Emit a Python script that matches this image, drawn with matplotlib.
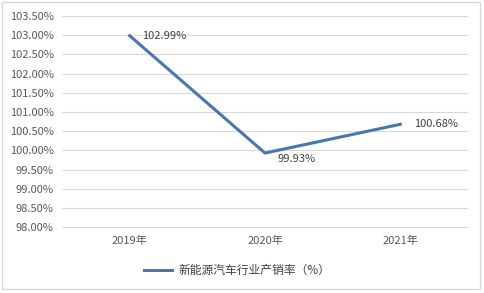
import matplotlib.pyplot as plt
from matplotlib.patches import Rectangle

plt.rcParams['font.family'] = ['Noto Sans CJK SC', 'DejaVu Sans']

years = ['2019年', '2020年', '2021年']
rates = [102.99, 99.93, 100.68]
labels = ['102.99%', '99.93%', '100.68%']
yticks = [98.0 + 0.5 * i for i in range(12)]

fig = plt.figure(figsize=(4.84, 2.93), dpi=100)
ax = fig.add_axes([0.128, 0.225, 0.839, 0.72])

x = range(len(years))
ax.plot(x, rates, color='#4a76b0', linewidth=2.2, label='新能源汽车行业产销率（%）')
offsets = [(9, 0), (9, -4), (10, 0)]
for xi, v, t, off in zip(x, rates, labels, offsets):
    ax.annotate(t, (xi, v), xytext=off, textcoords='offset points',
                fontsize=8, color='#404040', va='center')

ax.set_xlim(-0.5, 2.5)
ax.set_ylim(98.0, 103.5)
ax.set_yticks(yticks)
ax.set_yticklabels(['%.2f%%' % v for v in yticks])
ax.set_xticks(list(x))
ax.set_xticklabels(years)
ax.grid(axis='y', color='#d9d9d9', linewidth=0.8)
ax.set_axisbelow(True)
for s in ax.spines.values():
    s.set_visible(False)
ax.spines['bottom'].set_visible(True)
ax.spines['bottom'].set_color('#d9d9d9')
ax.tick_params(length=0, labelsize=8, colors='#595959', pad=6)

leg = fig.legend(loc='center', bbox_to_anchor=(0.49, 0.078), frameon=False,
                 fontsize=8.5, handlelength=2.4, handletextpad=0.5, labelcolor='#404040')

fig.patches.append(Rectangle((0.004, 0.015), 0.988, 0.978, transform=fig.transFigure,
                             fill=False, edgecolor='#d9d9d9', linewidth=1))

fig.savefig('out.png', dpi=100)
